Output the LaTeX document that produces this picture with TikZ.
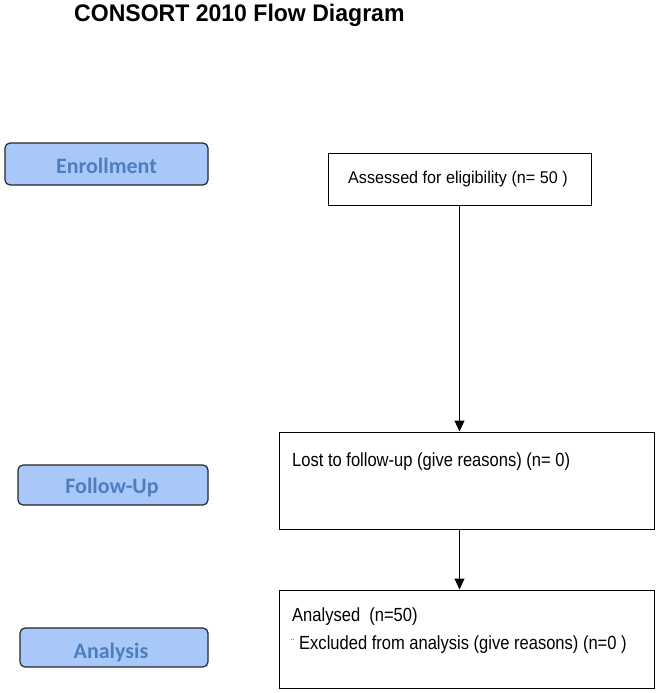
\documentclass[tikz,border=0pt]{standalone}
\usepackage{fontspec}
\setmainfont{Liberation Sans}
\newfontfamily\calfont{Carlito}
\newfontfamily\titlefont[FakeStretch=0.96]{Liberation Sans}
\newfontfamily\assfont[FakeStretch=0.95]{Liberation Sans}
\newfontfamily\narrowfont[FakeStretch=0.87]{Liberation Sans}
\usetikzlibrary{arrows.meta}
\definecolor{stagefill}{HTML}{A9C8FA}
\definecolor{stagetext}{HTML}{4E7EBD}
\tikzset{
  stage/.style={draw=black!85, line width=1.2pt, fill=stagefill, rounded corners=5pt, inner sep=0pt},
  flowbox/.style={draw=black, line width=1pt, fill=white, inner sep=0pt},
  stagelabel/.style={font=\calfont\bfseries\fontsize{22}{26}\selectfont, text=stagetext, anchor=base, inner sep=0pt},
  boxtext/.style={font=\narrowfont\fontsize{19}{22}\selectfont, anchor=base west, inner sep=0pt},
  flowarrow/.style={draw=black, line width=1.1pt, -{Triangle[width=10pt,length=11pt]}}
}
\begin{document}
\begin{tikzpicture}[x=1pt,y=-1pt]
\useasboundingbox (0,0) rectangle (658,693);
\node[anchor=base west, inner sep=0pt, font=\titlefont\bfseries\fontsize{24}{28}\selectfont] (title) at (74,22) {CONSORT 2010 Flow Diagram};

% stage labels
\node[stage, minimum width=203pt, minimum height=42pt] (enr) at (106.5,164) {};
\node[stagelabel] (enrt) at (106.5,173) {Enrollment};
\node[stage, minimum width=190pt, minimum height=40pt] (fol) at (113,485) {};
\node[stagelabel] (folt) at (112,493) {Follow-Up};
\node[stage, minimum width=188pt, minimum height=39pt] (ana) at (114,647.5) {};
\node[stagelabel] (anat) at (111,658) {Analysis};

% flow boxes
\node[flowbox, minimum width=263pt, minimum height=52pt] (ass) at (459.5,179) {};
\node[font=\assfont\fontsize{17}{20}\selectfont, inner sep=0pt, anchor=base west] (asst) at (348,183) {Assessed for eligibility (n= 50 )};

\node[flowbox, minimum width=375pt, minimum height=97pt] (lost) at (466.5,480.5) {};
\node[boxtext] (lostt) at (292,466) {Lost to follow-up (give reasons) (n= 0)};

\node[flowbox, minimum width=375pt, minimum height=98pt] (anl) at (466.5,639) {};
\node[boxtext] (anlt1) at (292,621) {Analysed\ \ (n=50)};
\node[boxtext, font=\fontsize{9}{10}\selectfont] (bul) at (291,645) {¨};
\node[boxtext] (anlt2) at (299,649) {Excluded from analysis (give reasons) (n=0 )};

% connectors
\draw[flowarrow] (ass.south -| 459.5,0) -- (lost.north -| 459.5,0);
\draw[flowarrow] (lost.south -| 459.5,0) -- (anl.north -| 459.5,0);
\end{tikzpicture}
\end{document}
